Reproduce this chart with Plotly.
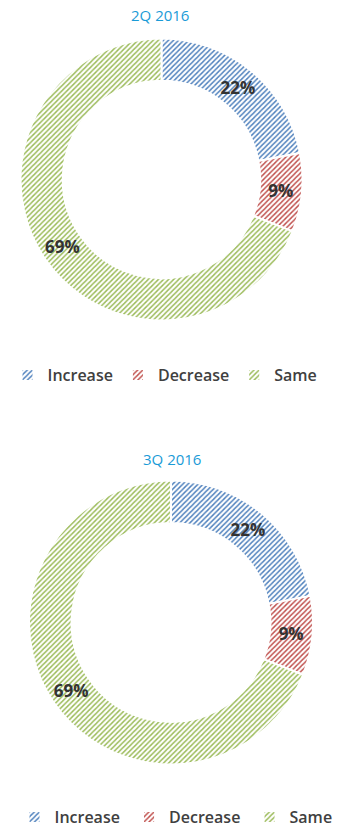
import plotly.graph_objects as go

labels = ["Increase", "Decrease", "Same"]
values_2q = [22, 9, 69]
values_3q = [22, 9, 69]
titles = ["2Q 2016", "3Q 2016"]
colors = ["#4F81BD", "#C0504D", "#9BBB59"]

W, H = 350, 834

def px_dom(x0, x1, y0, y1):
    return dict(x=[x0 / W, x1 / W], y=[1 - y1 / H, 1 - y0 / H])

def pie(vals, dom, legend, suffix):
    return go.Pie(
        labels=[l + suffix for l in labels], values=vals, sort=False,
        direction="clockwise", rotation=0,
        hole=0.70, domain=dom, legend=legend,
        texttemplate="%{value}%", textposition="inside", insidetextorientation="horizontal",
        textfont=dict(family="Open Sans", size=17, color="#333333", weight="bold"),
        marker=dict(colors=colors, line=dict(color="white", width=2),
                    pattern=dict(shape="/", fillmode="replace", fgcolor=colors,
                                 bgcolor="white", size=3.6, solidity=0.4)),
        hoverinfo="label+percent",
    )

fig = go.Figure()
fig.add_trace(pie(values_2q, px_dom(20.5, 302.5, 38.5, 320.5), "legend", ""))
fig.add_trace(pie(values_3q, px_dom(29, 313, 480.5, 764.5), "legend2", " "))

title_font = dict(family="Open Sans", size=15, color="#1A9BD7")
fig.add_annotation(text=titles[0], x=160 / W, y=1 - 15 / H, xref="paper", yref="paper",
                   showarrow=False, font=title_font, xanchor="center", yanchor="middle")
fig.add_annotation(text=titles[1], x=172 / W, y=1 - 459 / H, xref="paper", yref="paper",
                   showarrow=False, font=title_font, xanchor="center", yanchor="middle")

leg_font = dict(family="Open Sans", size=16, color="#404040", weight=600)
fig.update_layout(
    width=W, height=H, margin=dict(l=0, r=0, t=0, b=0),
    paper_bgcolor="white", plot_bgcolor="white",
    legend=dict(orientation="h", x=165 / W, xanchor="center", y=1 - 375 / H, yanchor="middle",
                font=leg_font, itemwidth=30, tracegroupgap=0),
    legend2=dict(orientation="h", x=178 / W, xanchor="center", y=1 - 817 / H, yanchor="middle",
                 font=leg_font, itemwidth=30, tracegroupgap=0),
)
fig.write_html("out.html")
